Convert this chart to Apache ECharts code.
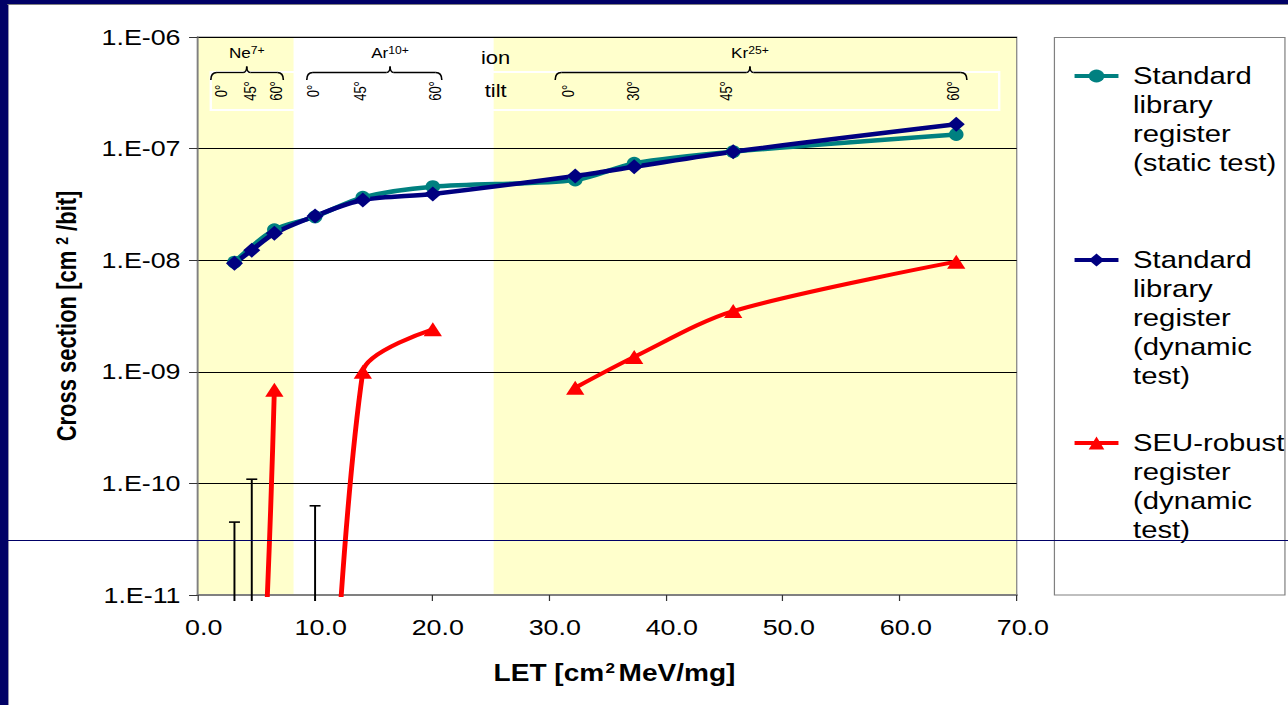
<!DOCTYPE html>
<html><head><meta charset="utf-8">
<script src="https://cdn.jsdelivr.net/npm/echarts@6/dist/echarts.min.js"></script>
<style>
html,body{margin:0;padding:0;background:#fff;overflow:hidden;}
#wrap{position:absolute;left:0;top:0;width:1288px;height:705px;overflow:hidden;background:#fff;}
#chart{position:absolute;left:0;top:0;width:1056px;height:705px;transform:scaleX(1.219697);transform-origin:0 0;}
</style></head>
<body><div id="wrap"><div id="chart"></div></div>
<script>
// ---------------- data ----------------
const letNe = [3.15, 4.63, 6.56];
const letAr = [10.04, 14.12, 20.10];
const letKr = [32.27, 37.31, 45.77, 64.83];

const staticNe = [9.6e-9, null, 1.87e-8];
const staticAr = [2.45e-8, 3.66e-8, 4.56e-8];
const staticKr = [5.24e-8, 7.38e-8, 9.38e-8, 1.34e-7];

const dynamicNe = [9.37e-9, 1.23e-8, 1.74e-8];
const dynamicAr = [2.49e-8, 3.46e-8, 3.92e-8];
const dynamicKr = [5.69e-8, 6.87e-8, 9.38e-8, 1.65e-7];

// off-scale (no upset) points sit far below the axis minimum
const seuNe = [1.5e-13, 1.5e-13, 6.9e-10];
const seuAr = [1.0e-16, 1.0e-9, 2.4e-9];
const seuKr = [7.2e-10, 1.36e-9, 3.5e-9, 9.7e-9];

// upper limits (no upsets observed)
const limitLET = [3.15, 4.63, 10.04];
const limitUpper = [4.5e-11, 1.09e-10, 6.3e-11];

// ion LET ranges (shaded)
const ionBands = [[0, 8.2], [25.3, 70]];

const xTickLabels = ['0.0', '10.0', '20.0', '30.0', '40.0', '50.0', '60.0', '70.0'];
const yTickLabels = ['1.E-11', '1.E-10', '1.E-09', '1.E-08', '1.E-07', '1.E-06'];

const seriesNames = [
  'Standard library register (static test)',
  'Standard library register (dynamic test)',
  'SEU-robust register (dynamic test)'
];
const legendLines = [
  ['Standard', 'library', 'register', '(static test)'],
  ['Standard', 'library', 'register', '(dynamic', 'test)'],
  ['SEU-robust', 'register', '(dynamic', 'test)']
];

const ionNames = ['Ne', 'Ar', 'Kr'];
const ionCharges = ['7+', '10+', '25+'];
const tiltNames = [['0°', '45°', '60°'], ['0°', '45°', '60°'], ['0°', '30°', '45°', '60°']];

// annotation placement (in LET units along x)
const tiltAt = [[2.07, 4.49, 6.77], [9.9, 13.9, 20.3], [31.7, 37.25, 45.2, 64.6]];
const braceAt = [[1.13, 4.2, 7.33], [9.33, 16.45, 20.87], [30.56, 47.2, 65.74]];
const noteBoxAt = [1.13, 68.5];
const ionTiltWordAt = 25.47;

// ---------------- chart ----------------
const FONT = '"Liberation Sans", Arial, Helvetica, sans-serif';
const zip = (xs, ys) => xs.map((x, i) => [x, ys[i]]);
const letAll = letNe.concat(letAr, letKr);

const chart = echarts.init(document.getElementById('chart'), null, {renderer: 'svg', width: 1056, height: 705});

const lineBase = {type: 'line', smooth: 0.3, clip: true, connectNulls: true, z: 3, silent: true};
const seuStyle = {
  name: seriesNames[2], symbol: 'triangle', symbolSize: [15, 14],
  itemStyle: {color: '#FF0000'}, lineStyle: {color: '#FF0000', width: 4}
};
const legendIconY = [76, 260, 443];
const LH = 29;

const option = {
  animation: false,
  backgroundColor: 'transparent',
  grid: {
    left: 162, right: 222.4, top: 37, bottom: 110, z: 1.5,
    show: true, borderColor: '#808080', borderWidth: 1, backgroundColor: 'transparent',
    containLabel: false, outerBoundsMode: 'none'
  },
  xAxis: {
    type: 'value', min: 0, max: 70, interval: 10, z: 1.5,
    axisLine: {show: true, onZero: false, lineStyle: {color: '#808080', width: 2}},
    axisTick: {show: true, inside: false, length: 6, lineStyle: {color: '#333', width: 1}},
    splitLine: {show: false},
    axisLabel: {
      show: true, margin: 21, color: '#000', fontFamily: FONT, fontSize: 22, padding: [0, 0, 0, 10],
      formatter: v => xTickLabels[Math.round(v / 10)]
    },
    name: 'LET [cm{s|2}MeV/mg]', nameLocation: 'middle', nameGap: 66,
    nameTextStyle: {
      color: '#000', fontFamily: FONT, fontSize: 23, fontWeight: 'bold', padding: [0, 0, 0, 12],
      rich: {s: {fontSize: 14, fontWeight: 'bold', fontFamily: FONT, color: '#000', verticalAlign: 'top', padding: [0, 3, 0, 1]}}
    }
  },
  yAxis: {
    type: 'log', logBase: 10, min: 1e-11, max: 1e-6, z: 1.5,
    axisLine: {show: true, onZero: false, lineStyle: {color: '#808080', width: 1.5}},
    axisTick: {show: true, inside: false, length: 7, lineStyle: {color: '#333', width: 1}},
    minorTick: {show: false},
    splitLine: {show: true, lineStyle: {color: '#000', width: 1, type: 'solid'}},
    axisLabel: {
      show: true, margin: 14, color: '#000', fontFamily: FONT, fontSize: 22,
      formatter: v => yTickLabels[Math.round(Math.log10(v)) + 11]
    },
    name: 'Cross section [cm{s|2}/bit]', nameLocation: 'middle', nameGap: 96, nameRotate: 90,
    nameTextStyle: {
      color: '#000', fontFamily: FONT, fontSize: 22, fontWeight: 'bold',
      rich: {s: {fontSize: 14, fontWeight: 'bold', fontFamily: FONT, color: '#000', verticalAlign: 'top', padding: [0, 6, 0, 6]}}
    }
  },
  legend: seriesNames.map((name, i) => ({
    data: [name], orient: 'vertical', left: 879,
    top: legendIconY[i] - (2 * legendLines[i].length - 1) * LH / 2,
    padding: 0, itemWidth: 36, itemHeight: 16, itemGap: 0, selectedMode: false,
    lineStyle: {width: 4},
    formatter: () => '\n'.repeat(legendLines[i].length - 1) + legendLines[i].join('\n'),
    textStyle: {
      color: '#000', fontFamily: FONT, fontSize: 24, lineHeight: LH,
      padding: [0, 0, 0, 7]
    }
  })),
  series: [
    Object.assign({}, lineBase, {
      name: seriesNames[0],
      data: zip(letAll, staticNe.concat(staticAr, staticKr)),
      symbol: 'circle', symbolSize: [12, 13],
      itemStyle: {color: '#008080'}, lineStyle: {color: '#008080', width: 4.5},
      markArea: {
        silent: true, z: 1,
        itemStyle: {color: '#FFFFCC', borderWidth: 0},
        label: {show: false},
        data: ionBands.map(b => [{xAxis: b[0]}, {xAxis: b[1]}])
      }
    }),
    Object.assign({}, lineBase, {
      name: seriesNames[1],
      data: zip(letAll, dynamicNe.concat(dynamicAr, dynamicKr)),
      symbol: 'diamond', symbolSize: [14, 15],
      itemStyle: {color: '#000080'}, lineStyle: {color: '#000080', width: 4.5}
    }),
    Object.assign({}, lineBase, seuStyle, {data: zip(letNe, seuNe)}),
    Object.assign({}, lineBase, seuStyle, {data: zip(letAr, seuAr)}),
    Object.assign({}, lineBase, seuStyle, {data: zip(letKr, seuKr)}),
    {
      type: 'custom', name: 'upper limits', silent: true, clip: false, z: 3,
      data: zip(limitLET, limitUpper),
      renderItem: function (params, api) {
        const p = api.coord([api.value(0), api.value(1)]);
        const cs = params.coordSys;
        const bottom = cs.y + cs.height + 6;
        const hw = 4.5;
        return {
          type: 'group',
          children: [
            {type: 'line', shape: {x1: p[0], y1: p[1], x2: p[0], y2: bottom}, style: {stroke: '#000', lineWidth: 1.6}},
            {type: 'line', shape: {x1: p[0] - hw, y1: p[1], x2: p[0] + hw, y2: p[1]}, style: {stroke: '#000', lineWidth: 1.6}}
          ]
        };
      }
    }
  ]
};

chart.setOption(option);

// ---------------- annotations ----------------
const px = v => chart.convertToPixel({xAxisIndex: 0}, v);
const els = [];

// slide frame
els.push({type: 'rect', shape: {x: 0, y: 0, width: 6.6, height: 705}, style: {fill: '#000066'}, z: 50, silent: true});
els.push({type: 'rect', shape: {x: 0, y: 0, width: 1056, height: 4}, style: {fill: '#000066'}, z: 50, silent: true});
els.push({type: 'line', shape: {x1: 7, y1: 4, x2: 7, y2: 705}, style: {stroke: '#8080a0', lineWidth: 0.8}, z: 50, silent: true});
els.push({type: 'line', shape: {x1: 6, y1: 4.5, x2: 1056, y2: 4.5}, style: {stroke: '#808080', lineWidth: 1}, z: 50, silent: true});
// legend box
els.push({type: 'rect', shape: {x: 864.5, y: 37.5, width: 189, height: 557.5}, style: {fill: 'none', stroke: '#808080', lineWidth: 1}, z: 5, silent: true});
// stray horizontal rule across the slide
els.push({type: 'line', shape: {x1: 0, y1: 540.5, x2: 1056, y2: 540.5}, style: {stroke: '#000066', lineWidth: 1}, z: 60, silent: true});

// tilt box
const bx1 = px(noteBoxAt[0]), bx2 = px(noteBoxAt[1]);
els.push({type: 'rect', shape: {x: bx1, y: 72, width: bx2 - bx1, height: 38}, style: {fill: 'none', stroke: '#fff', lineWidth: 2}, z: 5, silent: true});

// braces
const yEnd = 80, y0 = 72.5, yPeak = 66.5, r = 5, rp = 3;
const braceStyle = {fill: 'none', stroke: '#000', lineWidth: 1.3};
const curve = (a, b, c, d, cx, cy) => ({type: 'bezierCurve', shape: {x1: a, y1: b, x2: c, y2: d, cpx1: cx, cpy1: cy}, style: braceStyle, z: 6, silent: true});
const seg = (a, b, c, d) => ({type: 'line', shape: {x1: a, y1: b, x2: c, y2: d}, style: braceStyle, z: 6, silent: true});
braceAt.forEach(b => {
  const x1 = px(b[0]), xm = px(b[1]), x2 = px(b[2]);
  els.push(curve(x1, yEnd, x1 + r, y0, x1, y0));
  els.push(seg(x1 + r, y0, xm - rp, y0));
  els.push(curve(xm - rp, y0, xm, yPeak, xm, y0));
  els.push(curve(xm, yPeak, xm + rp, y0, xm, y0));
  els.push(seg(xm + rp, y0, x2 - r, y0));
  els.push(curve(x2 - r, y0, x2, yEnd, x2, y0));
});

// ion names
ionNames.forEach((n, i) => {
  els.push({
    type: 'text', x: px(braceAt[i][1]), y: 53, z: 6, silent: true,
    style: {
      text: `{b|${n}}{s|${ionCharges[i]}}`, align: 'center', verticalAlign: 'middle', fill: '#000',
      rich: {
        b: {fontSize: 14, fontFamily: FONT, fill: '#000', lineHeight: 16},
        s: {fontSize: 10, fontFamily: FONT, fill: '#000', verticalAlign: 'top', lineHeight: 10}
      }
    }
  });
});

// tilt angles
tiltNames.forEach((arr, i) => arr.forEach((t, j) => {
  els.push({
    type: 'text', x: px(tiltAt[i][j]), y: 91, rotation: Math.PI / 2, z: 6, silent: true,
    style: {text: t, fontSize: 13, fontFamily: FONT, fill: '#000', align: 'center', verticalAlign: 'middle'}
  });
}));

// "ion" / "tilt"
els.push({type: 'text', x: px(ionTiltWordAt), y: 58, z: 6, silent: true,
  style: {text: 'ion', fontSize: 18, fontFamily: FONT, fill: '#000', align: 'center', verticalAlign: 'middle'}});
els.push({type: 'text', x: px(ionTiltWordAt), y: 91, z: 6, silent: true,
  style: {text: 'tilt', fontSize: 18, fontFamily: FONT, fill: '#000', align: 'center', verticalAlign: 'middle'}});

chart.setOption({graphic: {elements: els}});
</script>
</body></html>
